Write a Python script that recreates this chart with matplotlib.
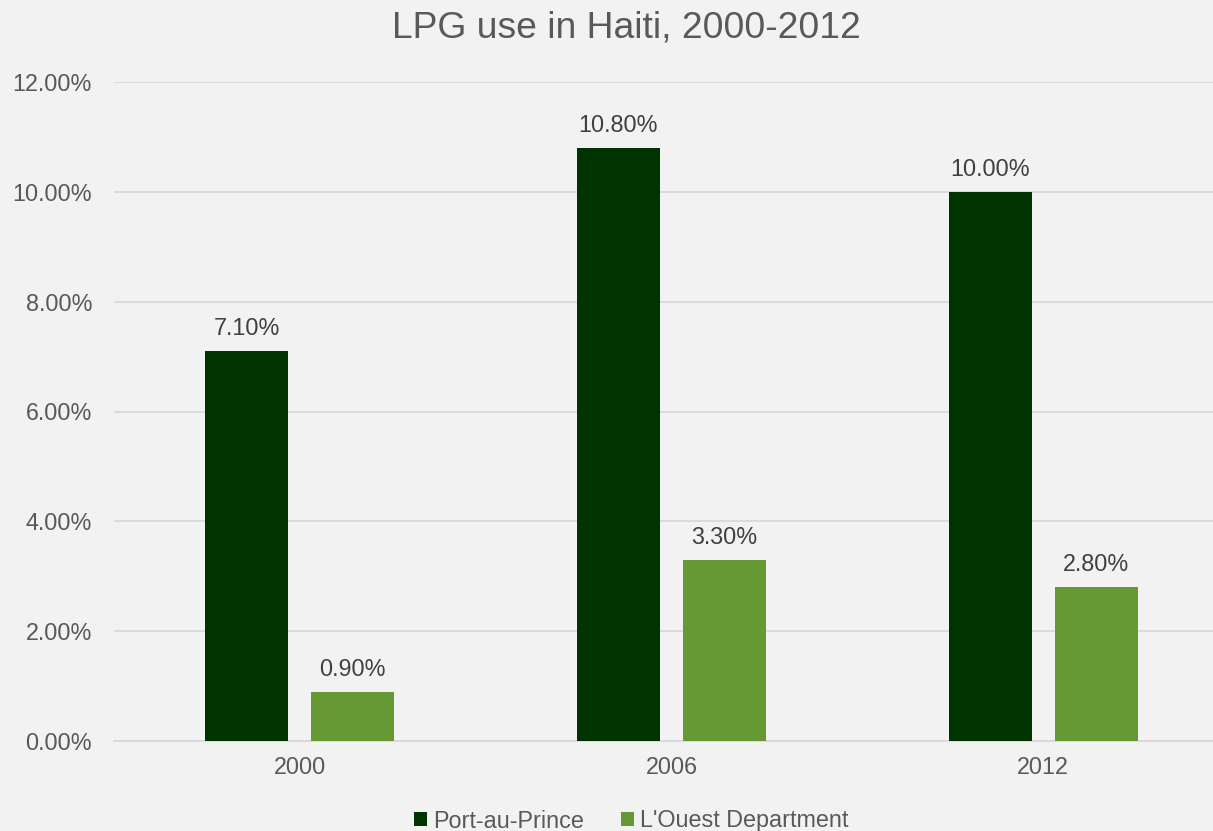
import matplotlib
matplotlib.use("Agg")
import matplotlib.pyplot as plt
import numpy as np
from matplotlib.ticker import FuncFormatter
from matplotlib.patches import Patch

plt.rcParams["font.family"] = ["Liberation Sans", "DejaVu Sans"]

years = ["2000", "2006", "2012"]
series_names = ["Port-au-Prince", "L'Ouest Department"]
port_au_prince = [7.1, 10.8, 10.0]
ouest_department = [0.9, 3.3, 2.8]
y_ticks = [0, 2, 4, 6, 8, 10, 12]

colors = ["#003300", "#669933"]
bg = "#F2F2F2"
grid_color = "#D9D9D9"
text_color = "#595959"
label_color = "#404040"

fig = plt.figure(figsize=(12.13, 8.31), dpi=100, facecolor=bg)
ax = fig.add_axes([114 / 1213, 1 - 741 / 831, 1 - 114 / 1213, (741 - 82) / 831])
ax.set_facecolor(bg)

x = np.arange(len(years))
width = 0.2234
offset = 0.1427
for vals, off, col in [(port_au_prince, -offset, colors[0]), (ouest_department, offset, colors[1])]:
    bars = ax.bar(x + off, vals, width=width, color=col, zorder=3)
    for b, v in zip(bars, vals):
        ax.annotate(f"{v:.2f}%", (b.get_x() + b.get_width() / 2, v),
                    xytext=(0, 11.5), textcoords="offset points",
                    ha="center", va="baseline", fontsize=16.8, color=label_color)

ax.set_xlim(-0.5, 2.457)
ax.set_ylim(0, 12)
ax.set_yticks(y_ticks)
ax.yaxis.set_major_formatter(FuncFormatter(lambda v, p: f"{v:.2f}%"))
ax.set_xticks(x)
ax.set_xticklabels(years)
ax.grid(axis="y", color=grid_color, linewidth=1.3, zorder=0)
ax.set_axisbelow(True)
for s in ["top", "right", "left"]:
    ax.spines[s].set_visible(False)
ax.spines["bottom"].set_color(grid_color)
ax.spines["bottom"].set_linewidth(1.3)
ax.tick_params(axis="y", length=0, pad=15.8, labelsize=16.8, labelcolor=text_color)
ax.tick_params(axis="x", length=0, pad=10.5, labelsize=16.8, labelcolor=text_color)

fig.text(626 / 1213, 1 - 28 / 831, "LPG use in Haiti, 2000-2012", ha="center", va="center",
         fontsize=26.8, color=text_color)

handles = [Patch(facecolor=c, edgecolor="none") for c in colors]
fig.legend(handles, series_names, loc="center", bbox_to_anchor=(631 / 1213, 1 - 821 / 831),
           ncol=2, frameon=False, fontsize=16.8, labelcolor=text_color,
           handlelength=0.55, handleheight=0.55, handletextpad=0.25, columnspacing=1.6)

fig.savefig("out.png", dpi=100, facecolor=bg)
